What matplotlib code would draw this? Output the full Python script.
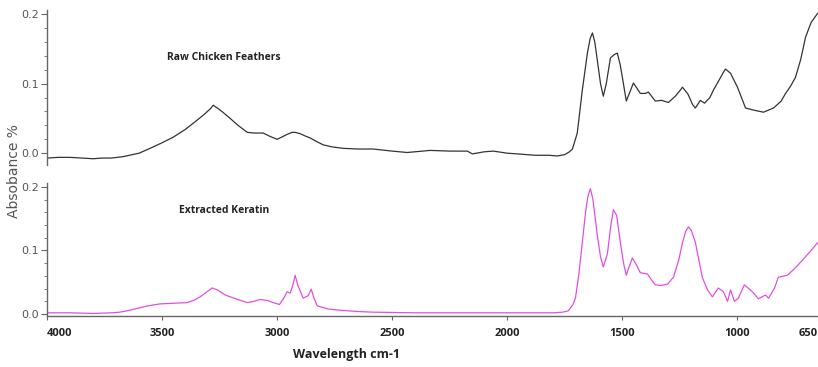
import matplotlib
matplotlib.use("Agg")
import matplotlib.pyplot as plt
from matplotlib.ticker import MultipleLocator

# FTIR absorbance spectra (wavenumber in cm-1)
feathers_wn = [4000, 3950, 3900, 3850, 3800, 3760, 3720, 3670, 3600, 3552,
               3500, 3452, 3400, 3365, 3320, 3290, 3278, 3260, 3240, 3204,
               3170, 3130, 3100, 3061, 3030, 3000, 2975, 2957, 2935, 2922,
               2900, 2880, 2857, 2830, 2800, 2760, 2713, 2650, 2583, 2500,
               2435, 2335, 2250, 2174, 2152, 2100, 2061, 2000, 1957, 1880,
               1820, 1783, 1750, 1730, 1717, 1696, 1674, 1652, 1640, 1630,
               1620, 1609, 1595, 1583, 1570, 1552, 1535, 1522, 1510, 1500,
               1483, 1465, 1452, 1422, 1400, 1387, 1357, 1330, 1300, 1270,
               1250, 1239, 1215, 1195, 1183, 1161, 1143, 1120, 1104, 1075,
               1060, 1052, 1030, 1000, 980, 965, 930, 887, 843, 810,
               791, 770, 748, 725, 704, 680, 652]
feathers_abs = [-0.007, -0.006, -0.006, -0.007, -0.008, -0.007, -0.007, -0.005, 0.000, 0.007,
                0.015, 0.023, 0.034, 0.043, 0.055, 0.064, 0.069, 0.065, 0.060, 0.050,
                0.040, 0.030, 0.029, 0.029, 0.024, 0.020, 0.024, 0.027, 0.030, 0.030,
                0.028, 0.025, 0.022, 0.017, 0.012, 0.009, 0.007, 0.006, 0.006, 0.003,
                0.001, 0.004, 0.003, 0.003, -0.001, 0.002, 0.003, 0.000, -0.001, -0.003,
                -0.003, -0.004, -0.002, 0.002, 0.006, 0.029, 0.091, 0.144, 0.165, 0.173,
                0.160, 0.134, 0.100, 0.082, 0.100, 0.137, 0.142, 0.144, 0.128, 0.109,
                0.075, 0.090, 0.101, 0.086, 0.086, 0.088, 0.075, 0.076, 0.073, 0.082,
                0.090, 0.095, 0.085, 0.070, 0.065, 0.076, 0.072, 0.080, 0.091, 0.108,
                0.117, 0.121, 0.115, 0.095, 0.078, 0.065, 0.062, 0.059, 0.065, 0.075,
                0.086, 0.096, 0.109, 0.135, 0.167, 0.188, 0.201]

keratin_wn = [4000, 3900, 3800, 3720, 3683, 3640, 3609, 3560, 3509, 3450,
              3391, 3360, 3335, 3305, 3283, 3260, 3226, 3180, 3130, 3100,
              3074, 3040, 3017, 2990, 2970, 2957, 2943, 2930, 2922, 2910,
              2887, 2865, 2852, 2840, 2826, 2780, 2726, 2650, 2583, 2400,
              2200, 2000, 1800, 1760, 1735, 1715, 1704, 1690, 1674, 1660,
              1650, 1639, 1628, 1609, 1595, 1583, 1565, 1550, 1539, 1525,
              1509, 1495, 1483, 1470, 1457, 1440, 1422, 1391, 1370, 1357,
              1330, 1304, 1278, 1255, 1239, 1225, 1213, 1200, 1183, 1165,
              1152, 1130, 1109, 1083, 1061, 1043, 1030, 1013, 996, 970,
              935, 909, 878, 865, 840, 822, 783, 750, 717, 685, 652]
keratin_abs = [0.002, 0.002, 0.001, 0.002, 0.003, 0.006, 0.009, 0.013, 0.016, 0.017,
               0.018, 0.022, 0.027, 0.035, 0.041, 0.038, 0.030, 0.024, 0.018, 0.020,
               0.023, 0.021, 0.018, 0.015, 0.026, 0.035, 0.033, 0.048, 0.061, 0.045,
               0.025, 0.029, 0.039, 0.025, 0.013, 0.008, 0.006, 0.004, 0.003, 0.002,
               0.002, 0.002, 0.002, 0.003, 0.005, 0.015, 0.025, 0.060, 0.113, 0.160,
               0.185, 0.197, 0.180, 0.124, 0.090, 0.074, 0.095, 0.140, 0.164, 0.155,
               0.113, 0.080, 0.061, 0.075, 0.088, 0.078, 0.065, 0.063, 0.052, 0.046,
               0.045, 0.047, 0.058, 0.085, 0.112, 0.130, 0.137, 0.131, 0.113, 0.080,
               0.057, 0.038, 0.027, 0.041, 0.035, 0.020, 0.038, 0.020, 0.025, 0.046,
               0.035, 0.024, 0.030, 0.025, 0.040, 0.058, 0.061, 0.072, 0.085, 0.098, 0.112]

x_ticks = [4000, 3500, 3000, 2500, 2000, 1500, 1000, 650]
y_ticks = [0.0, 0.1, 0.2]

spine_col = "#666666"
fig = plt.figure(figsize=(8.18, 3.67), dpi=100)

ax_top = fig.add_axes([0.0575, 0.5504, 0.9425, 0.4223])
ax_bot = fig.add_axes([0.0575, 0.139, 0.9425, 0.3624])

ax_top.plot(feathers_wn, feathers_abs, color="#333333", lw=0.9)
ax_bot.plot(keratin_wn, keratin_abs, color="#e24ee2", lw=0.9)

ax_top.set_ylim(-0.017, 0.206)
ax_bot.set_ylim(-0.003, 0.206)

for ax in (ax_top, ax_bot):
    ax.set_xlim(4000, 650)
    ax.set_yticks(y_ticks)
    ax.set_yticklabels(["0.0", "0.1", "0.2"])
    ax.yaxis.set_minor_locator(MultipleLocator(0.02))
    ax.tick_params(axis="y", which="major", length=4, width=0.8, color=spine_col,
                   labelsize=8, labelcolor="#555555", direction="out", pad=2)
    ax.tick_params(axis="y", which="minor", length=2, width=0.6, color=spine_col,
                   direction="out")
    for side in ("top", "right"):
        ax.spines[side].set_visible(False)
    ax.spines["left"].set_color(spine_col)
    ax.spines["left"].set_linewidth(1.0)
    ax.patch.set_alpha(0)

ax_top.spines["bottom"].set_visible(False)
ax_top.set_xticks([])

ax_bot.spines["bottom"].set_color(spine_col)
ax_bot.spines["bottom"].set_linewidth(1.0)
ax_bot.set_xticks(x_ticks)
ax_bot.set_xticklabels([str(t) for t in x_ticks], fontweight="bold",
                       fontfamily="Open Sans")
ax_bot.tick_params(axis="x", length=3, width=0.8, color=spine_col,
                   labelsize=8, labelcolor="#222222", pad=6)
ax_bot.get_xticklabels()[-1].set_horizontalalignment("right")
ax_bot.get_xticklabels()[0].set_horizontalalignment("left")

ax_top.text(3230, 0.138, "Raw Chicken Feathers", ha="center", va="center",
            fontsize=7.5, fontweight="bold", color="#222222", family="Open Sans")
ax_bot.text(3230, 0.162, "Extracted Keratin", ha="center", va="center",
            fontsize=7.5, fontweight="bold", color="#222222", family="Open Sans")

fig.text(0.017, 0.535, "Absobance %", rotation=90, ha="center", va="center",
         fontsize=10, color="#555555")
fig.text(0.424, 0.033, "Wavelength cm-1", ha="center", va="center",
         fontsize=9, fontweight="bold", color="#222222", family="Open Sans")

fig.savefig("out.png", dpi=100)
